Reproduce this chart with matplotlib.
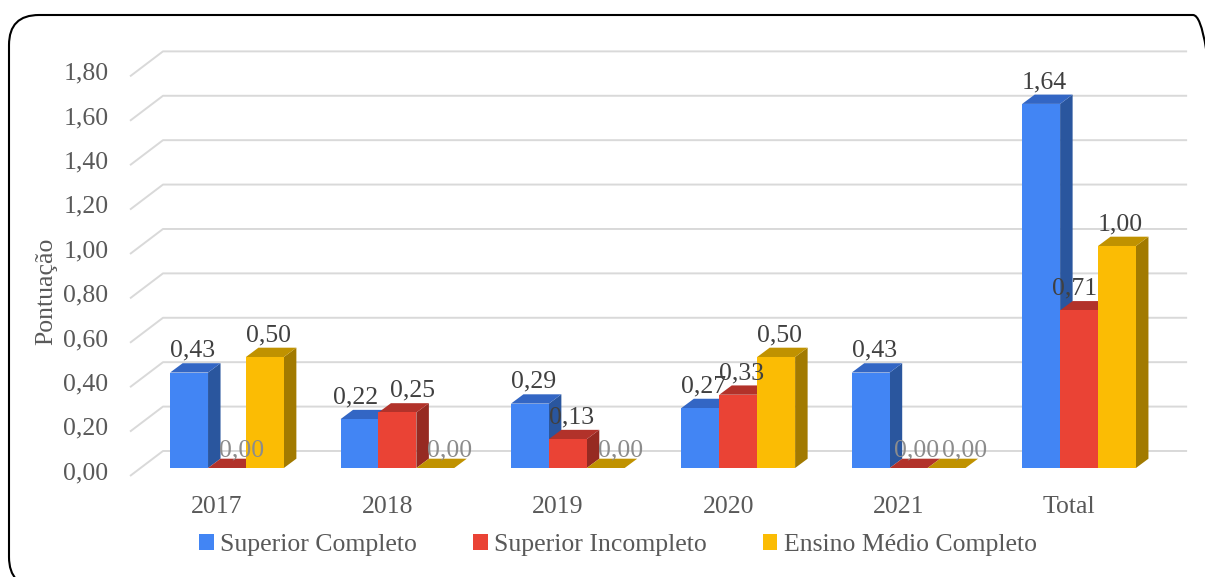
import matplotlib
matplotlib.use("Agg")
import matplotlib.pyplot as plt
from matplotlib.patches import Polygon, Rectangle, FancyBboxPatch, Patch

# ---- data ----
categories = ["2017", "2018", "2019", "2020", "2021", "Total"]
series_names = ["Superior Completo", "Superior Incompleto", "Ensino Médio Completo"]
superior_completo = [0.43, 0.22, 0.29, 0.27, 0.43, 1.64]
superior_incompleto = [0.00, 0.25, 0.13, 0.33, 0.00, 0.71]
ensino_medio = [0.50, 0.00, 0.00, 0.50, 0.00, 1.00]
y_ticks = [0.0, 0.2, 0.4, 0.6, 0.8, 1.0, 1.2, 1.4, 1.6, 1.8]

# front / side / top shades for each series
front_colors = ["#4285F4", "#EA4335", "#FBBC04"]
side_colors = ["#2A569E", "#962A22", "#A27A00"]
top_colors = ["#3366C4", "#B2322A", "#C09200"]

plt.rcParams["font.family"] = ["Liberation Serif", "DejaVu Serif"]
TXT = "#595959"
FS = 18.5

fig = plt.figure(figsize=(12.05, 5.77), dpi=100)
ax = fig.add_axes([0, 0, 1, 1])
ax.set_xlim(-1.332, 5.739)
ax.set_ylim(-0.491, 2.108)
ax.axis("off")

# oblique projection offsets (category units, value units)
bar_w = 0.2225
bdx, bdy = 0.0734, 0.0419          # bar depth
wall_front_x, wall_back_x, wall_right_x = -0.569, -0.3756, 5.634
wall_front_dy, wall_back_dy = -0.036, 0.0766

# small label nudges (category units) so neighbouring labels don't collide
label_nudge = {(1, 0): -0.045, (1, 1): 0.07, (4, 1): -0.04, (4, 2): 0.02,
               (5, 1): -0.045}

# gridlines: left-wall diagonal + back-wall horizontal
for v in y_ticks:
    ax.plot([wall_front_x, wall_back_x, wall_right_x],
            [v + wall_front_dy, v + wall_back_dy, v + wall_back_dy],
            color="#D9D9D9", lw=1.4, zorder=1, solid_capstyle="butt")
    ax.text(-0.695, v + wall_front_dy + 0.012, f"{v:.2f}".replace(".", ","),
            ha="right", va="center", fontsize=FS, color=TXT)

series = [superior_completo, superior_incompleto, ensino_medio]
for i, cat in enumerate(categories):
    x_start = i - 1.5 * bar_w
    for s, vals in enumerate(series):
        v = vals[i]
        x0 = x_start + s * bar_w
        x1 = x0 + bar_w
        z = 3 + s
        # side face
        ax.add_patch(Polygon([(x1, 0), (x1 + bdx, bdy), (x1 + bdx, v + bdy), (x1, v)],
                             closed=True, fc=side_colors[s], ec="none", zorder=z))
        # top face
        ax.add_patch(Polygon([(x0, v), (x0 + bdx, v + bdy), (x1 + bdx, v + bdy), (x1, v)],
                             closed=True, fc=top_colors[s], ec="none", zorder=z))
        # front face
        if v > 0:
            ax.add_patch(Rectangle((x0, 0), bar_w, v, fc=front_colors[s],
                                   ec="none", zorder=z))
        label = f"{v:.2f}".replace(".", ",")
        nudge = label_nudge.get((i, s), 0.0)
        if v > 0:
            ax.text(x0 + bar_w / 2 + 0.02 + nudge, v + bdy + 0.056, label,
                    ha="center", va="center", fontsize=FS, color="#404040", zorder=10)
        else:
            ax.text(x0 + bar_w / 2 + 0.085 + nudge, 0.078, label,
                    ha="center", va="center", fontsize=FS, color="#8C8C8C", zorder=10)
    ax.text(i - 0.059, -0.176, cat, ha="center", va="center", fontsize=FS, color=TXT)

# axis title
ax.text(-1.06, 0.795, "Pontuação", rotation=90, ha="center", va="center",
        fontsize=FS, color=TXT)

# legend
handles = [Patch(facecolor=c, edgecolor="none") for c in front_colors]
leg = ax.legend(handles, series_names, loc="center", bbox_to_anchor=(0.513, 0.055),
                ncol=3, frameon=False, fontsize=FS, handlelength=0.55, handleheight=0.55,
                handletextpad=0.25, columnspacing=2.2, labelcolor=TXT,
                borderaxespad=0, borderpad=0)

# rounded chart frame
fig.add_artist(FancyBboxPatch((0.09, -0.10), 12.14, 5.72,
                              boxstyle="round,pad=0,rounding_size=0.3",
                              transform=fig.dpi_scale_trans, fill=False,
                              ec="black", lw=1.5))

fig.savefig("out.png", dpi=100)
